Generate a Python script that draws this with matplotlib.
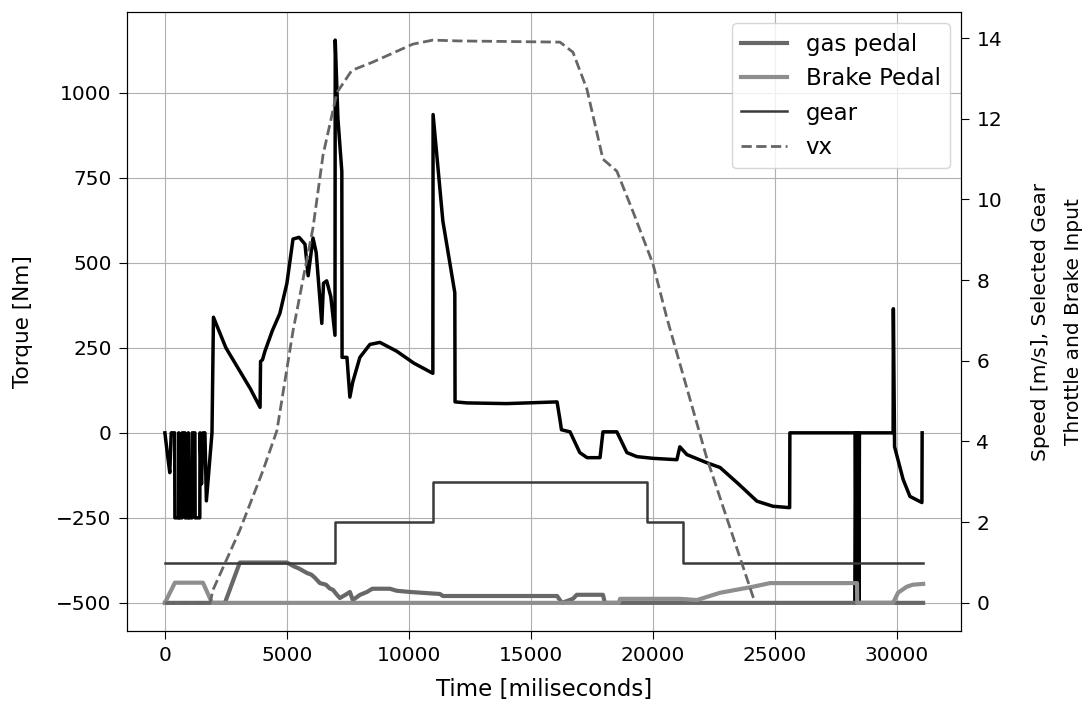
import numpy as np
import matplotlib
matplotlib.use("Agg")
import matplotlib.pyplot as plt

plt.rcParams['font.size'] = 14.5
plt.rcParams['xtick.major.size'] = 6
plt.rcParams['ytick.major.size'] = 6
plt.rcParams['xtick.major.pad'] = 5
plt.rcParams['ytick.major.pad'] = 5

# engine torque [Nm]
torque_t = [0, 100, 200, 260, 400, 410, 560, 570, 600, 700, 710, 820, 830, 950, 960, 1000,
            1110, 1120, 1230, 1240, 1430, 1440, 1500, 1560, 1640, 1700, 1930, 1990, 2500,
            3000, 3500, 3900, 3920, 4000, 4100, 4400, 4710, 5000, 5250, 5500, 5740, 5870,
            6070, 6200, 6430, 6500, 6630, 6800, 6970, 6980, 7090, 7250, 7260, 7460, 7580,
            7700, 7990, 8400, 8810, 9500, 10200, 10980, 10990, 11390, 11880, 11890, 12380,
            14000, 16070, 16190, 16250, 16600, 17000, 17300, 17830, 17950, 18520, 18930,
            19340, 20000, 20980, 21100, 21390, 22210, 22750, 23500, 24260, 24920, 25600,
            25610, 28280, 28290, 28320, 28340, 28370, 28390, 28420, 28440, 28460, 29840,
            29850, 29900, 30250, 30530, 31020, 31030]
torque = [0, -60, -117, 0, 0, -250, -250, 0, -250, -250, 0, 0, -250, -250, 0, -250,
          -250, 0, 0, -250, -250, 0, -150, 0, 0, -200, 0, 340, 250,
          190, 130, 75, 210, 215, 240, 300, 351, 440, 570, 575, 555, 462,
          573, 530, 322, 440, 447, 400, 287, 1155, 924, 769, 222, 222, 105,
          150, 222, 260, 266, 240, 205, 175, 936, 623, 412, 91, 88,
          86, 91, 38, 9, 3, -58, -73, -73, 3, 3, -58,
          -70, -75, -79, -41, -64, -88, -102, -150, -201, -216, -220,
          0, 0, -500, 0, -500, 0, -500, 0, -500, 0, 0,
          365, -41, -137, -187, -205, 0]

# vehicle speed [m/s]
vx_t = [0, 1850, 1970, 3070, 4020, 4590, 5250, 6070, 6480, 7050, 7660, 8500, 10160,
        10980, 12000, 16190, 16720, 17290, 17950, 18520, 19180, 20000, 20570, 22200,
        24100, 24250]
vx = [0, 0, 0.32, 1.8, 3.28, 4.27, 6.74, 9.3, 11.1, 12.65, 13.2, 13.4, 13.85,
      13.95, 13.93, 13.9, 13.65, 12.74, 11.0, 10.7, 9.7, 8.4, 7.06, 3.6,
      0.15, 0]

# selected gear
gear_t = [0, 6970, 10980, 19750, 21230, 31070]
gear = [1, 2, 3, 2, 1, 1]

# throttle input
gas_t = [0, 2460, 3070, 5000, 5300, 5500, 5820, 6000, 6150, 6350, 6600, 6750, 6890,
         7050, 7170, 7400, 7580, 7700, 8000, 8280, 8500, 9220, 9500, 10040, 11270,
         11390, 16070, 16270, 16720, 16880, 17950, 18030, 31070]
gas = [0, 0, 1.0, 1.0, 0.9, 0.85, 0.74, 0.7, 0.62, 0.49, 0.45, 0.36, 0.32,
       0.2, 0.12, 0.2, 0.27, 0.07, 0.2, 0.27, 0.35, 0.35, 0.3, 0.27, 0.22,
       0.17, 0.17, 0, 0.1, 0.2, 0.2, 0, 0]

# brake input
brake_t = [0, 410, 1560, 1930, 18600, 18650, 21100, 21800, 22750, 24100, 24800,
           28360, 28370, 29840, 30040, 30400, 30650, 31070]
brake = [0, 0.5, 0.5, 0, 0, 0.1, 0.1, 0.07, 0.25, 0.4, 0.49,
         0.49, 0, 0, 0.25, 0.4, 0.45, 0.47]

fig, ax1 = plt.subplots(figsize=(10.89, 7.04), dpi=100)
fig.subplots_adjust(left=0.1166, right=0.8825, top=0.983, bottom=0.1037)

ax1.plot(torque_t, torque, color='black', lw=2.5)
ax1.set_xlabel('Time [miliseconds]', fontsize=16.5, labelpad=9)
ax1.set_ylabel('Torque [Nm]', fontsize=15.5, labelpad=17)
ax1.set_yticks([-500, -250, 0, 250, 500, 750, 1000])
ax1.grid()

ax2 = ax1.twinx()
ax2.plot(gas_t, gas, color='#686868', lw=3, label='gas pedal')
ax2.plot(brake_t, brake, color='#8e8e8e', lw=3, label='Brake Pedal')
ax2.step(gear_t, gear, where='post', color='#3a3a3a', lw=1.8, label='gear')
ax2.plot(vx_t, vx, color='#666666', lw=2, ls='--', label='vx')
ax2.set_ylabel('Speed [m/s], Selected Gear\nThrottle and Brake Input',
               fontsize=14.5, linespacing=1.9, labelpad=21)
ax2.legend(loc='upper right', fontsize=16.5)

fig.savefig('out.png')
